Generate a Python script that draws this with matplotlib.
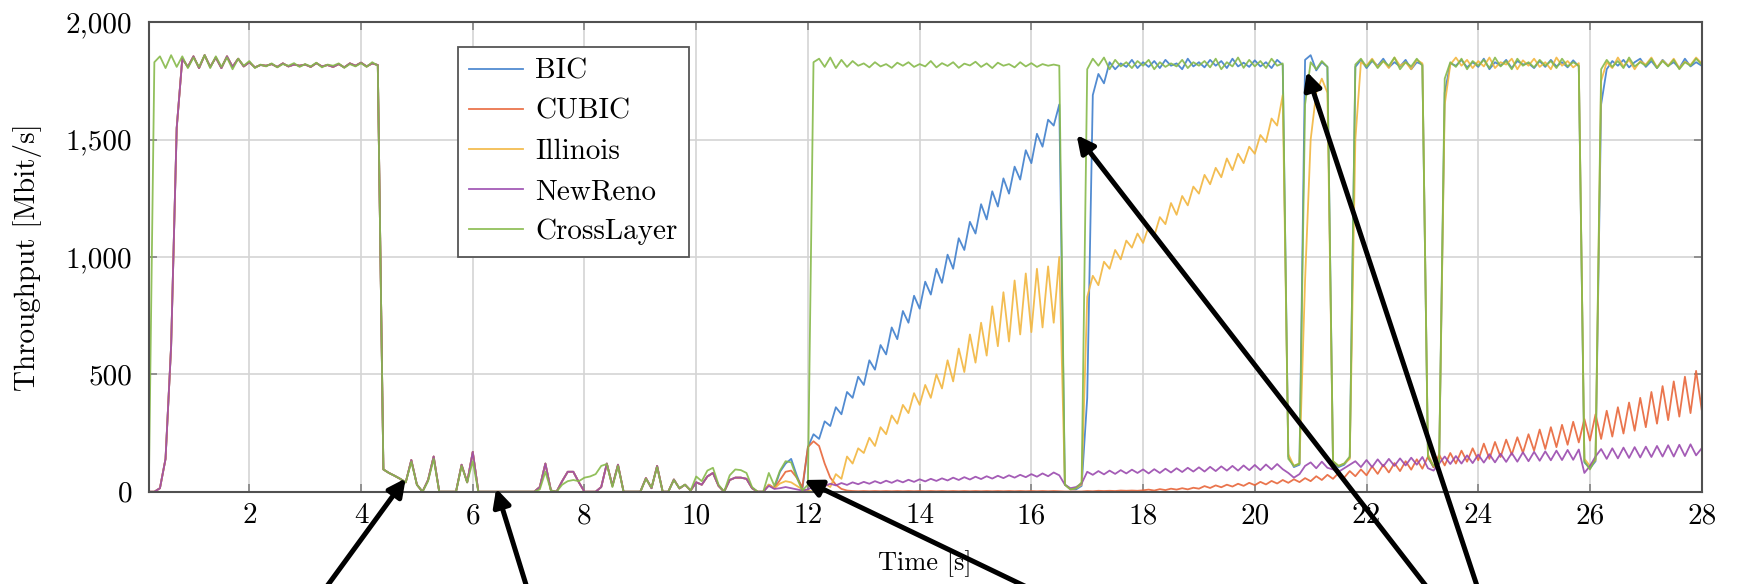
import matplotlib.pyplot as plt
import numpy as np

# throughput of the five congestion control variants, sampled every 0.1 s from 0.2 s to 28 s
t = np.linspace(0.2, 28.0, 279)

# all four TCP variants behave the same during the first 11 s
tcp_start = [
    0, 0, 15, 140, 620, 1550, 1845, 1810,
    1855, 1805, 1860, 1810, 1850, 1805, 1855, 1810, 1845, 1812,
    1830, 1808, 1818, 1815, 1822, 1810, 1825, 1812, 1820, 1815,
    1820, 1810, 1826, 1812, 1818, 1810, 1822, 1808, 1825, 1815,
    1828, 1812, 1825, 1818, 95, 80, 68, 55, 40, 135,
    30, 0, 50, 150, 0, 0, 0, 0, 115, 40,
    170, 0, 0, 0, 0, 0, 0, 0, 0, 0,
    0, 0, 20, 120, 5, 0, 45, 85, 85, 40,
    0, 0, 0, 20, 120, 25, 115, 0, 0, 0,
    0, 58, 15, 110, 0, 0, 52, 14, 30, 5,
    40, 30, 65, 80, 25, 0, 50, 60, 60, 55,
]

bic_tail = [
    15, 0, 0, 30, 15, 85, 120, 140, 70, 10,
    190, 245, 225, 300, 280, 360, 330, 425, 400, 490,
    455, 560, 520, 625, 585, 700, 650, 770, 720, 835,
    780, 895, 840, 950, 890, 1010, 950, 1080, 1030, 1150,
    1100, 1225, 1160, 1280, 1215, 1335, 1270, 1385, 1330, 1455,
    1400, 1525, 1470, 1585, 1560, 1650, 30, 10, 10, 25,
    400, 1690, 1780, 1740, 1830, 1800, 1825, 1810, 1840, 1805,
    1830, 1810, 1835, 1805, 1840, 1815, 1825, 1800, 1845, 1812,
    1830, 1808, 1840, 1815, 1835, 1805, 1845, 1812, 1828, 1810,
    1838, 1812, 1830, 1805, 1840, 1818, 150, 105, 115, 1840,
    1860, 1795, 1830, 1810, 125, 105, 115, 145, 1810, 1840,
    1805, 1835, 1815, 1845, 1808, 1830, 1812, 1840, 1800, 1830,
    1820, 145, 105, 120, 1700, 1825, 1815, 1840, 1808, 1830,
    1810, 1845, 1800, 1830, 1815, 1840, 1805, 1835, 1820, 1825,
    1805, 1835, 1810, 1840, 1812, 1830, 1808, 1838, 1812, 125,
    100, 130, 1650, 1800, 1835, 1815, 1840, 1808, 1830, 1845,
    1810, 1835, 1805, 1840, 1815, 1830, 1805, 1845, 1812, 1830,
    1815,
]

cubic_tail = [
    15, 0, 0, 30, 15, 50, 85, 90, 60, 20,
    190, 215, 195, 120, 60, 30, 12, 5, 3, 2,
    3, 2, 3, 2, 3, 2, 3, 2, 3, 2,
    3, 2, 3, 2, 3, 2, 3, 2, 3, 2,
    3, 2, 3, 2, 3, 2, 3, 2, 3, 2,
    3, 2, 3, 2, 3, 2, 1, 1, 1, 1,
    3, 2, 4, 3, 4, 3, 5, 4, 5, 4,
    6, 9, 5, 11, 7, 13, 9, 15, 10, 17,
    13, 24, 16, 27, 19, 30, 22, 34, 25, 38,
    28, 42, 31, 46, 35, 50, 38, 53, 41, 58,
    45, 66, 50, 72, 55, 80, 60, 88, 66, 95,
    70, 108, 76, 115, 82, 122, 88, 130, 94, 138,
    98, 150, 104, 158, 112, 165, 120, 175, 128, 185,
    134, 205, 140, 212, 148, 222, 158, 232, 166, 245,
    175, 265, 182, 275, 190, 285, 200, 298, 210, 310,
    218, 330, 225, 345, 235, 360, 248, 380, 260, 400,
    275, 425, 290, 450, 305, 470, 320, 490, 335, 515,
    350,
]

illinois_tail = [
    15, 0, 0, 30, 15, 35, 45, 40, 25, 10,
    5, 0, 10, 35, 20, 75, 55, 150, 120, 185,
    165, 230, 195, 275, 245, 325, 290, 370, 335, 420,
    370, 455, 400, 500, 440, 560, 470, 610, 510, 670,
    550, 720, 580, 790, 620, 850, 640, 900, 670, 930,
    680, 950, 700, 960, 720, 1000, 30, 10, 15, 30,
    830, 920, 880, 980, 950, 1030, 990, 1070, 1040, 1100,
    1060, 1130, 1090, 1170, 1140, 1230, 1180, 1260, 1220, 1300,
    1270, 1350, 1310, 1380, 1340, 1420, 1370, 1440, 1400, 1470,
    1440, 1520, 1490, 1590, 1560, 1690, 160, 110, 120, 900,
    1500, 1700, 1760, 1700, 130, 110, 120, 140, 1500, 1830,
    1815, 1845, 1810, 1835, 1805, 1850, 1815, 1830, 1800, 1840,
    1825, 160, 110, 120, 1650, 1820, 1850, 1815, 1840, 1805,
    1835, 1812, 1850, 1805, 1830, 1820, 1845, 1800, 1838, 1815,
    1845, 1810, 1830, 1800, 1850, 1815, 1835, 1808, 1826, 140,
    110, 135, 1750, 1830, 1805, 1850, 1812, 1840, 1800, 1835,
    1820, 1850, 1808, 1838, 1815, 1845, 1805, 1832, 1818, 1850,
    1825,
]

newreno_tail = [
    15, 0, 0, 25, 12, 15, 20, 15, 10, 5,
    10, 22, 30, 24, 34, 27, 37, 29, 40, 32,
    42, 34, 45, 36, 47, 38, 49, 40, 51, 42,
    53, 44, 55, 46, 57, 48, 60, 50, 62, 52,
    64, 54, 66, 56, 68, 58, 70, 60, 72, 62,
    75, 64, 78, 66, 82, 70, 30, 15, 20, 35,
    85, 72, 88, 74, 90, 76, 92, 78, 94, 80,
    95, 78, 96, 80, 98, 82, 100, 84, 102, 86,
    104, 86, 106, 88, 108, 90, 110, 90, 112, 92,
    114, 92, 116, 95, 118, 96, 80, 60, 75, 110,
    125, 100, 128, 102, 95, 85, 100, 115, 130, 105,
    135, 105, 138, 108, 140, 110, 142, 112, 145, 115,
    148, 100, 90, 120, 150, 118, 152, 120, 155, 122,
    158, 124, 160, 125, 162, 127, 165, 128, 168, 130,
    170, 132, 172, 134, 175, 135, 178, 136, 180, 80,
    110, 150, 182, 140, 185, 142, 188, 144, 190, 146,
    192, 148, 195, 150, 198, 150, 200, 152, 202, 155,
    185,
]

crosslayer = [
    0, 1830, 1855, 1805, 1860, 1810, 1855, 1805,
    1850, 1810, 1860, 1805, 1855, 1810, 1850, 1800, 1845, 1815,
    1835, 1805, 1820, 1812, 1825, 1808, 1822, 1815, 1826, 1810,
    1822, 1812, 1828, 1808, 1820, 1815, 1825, 1806, 1822, 1812,
    1826, 1810, 1830, 1815, 95, 80, 68, 55, 40, 128,
    30, 0, 45, 140, 0, 0, 0, 0, 110, 40,
    130, 0, 0, 0, 0, 0, 0, 0, 0, 0,
    0, 0, 10, 85, 5, 0, 30, 45, 50, 45,
    60, 65, 75, 110, 118, 20, 110, 0, 0, 0,
    0, 55, 18, 105, 0, 0, 50, 15, 30, 5,
    65, 45, 90, 102, 30, 0, 70, 95, 92, 80,
    20, 0, 0, 80, 25, 90, 130, 125, 60, 5,
    30, 1830, 1845, 1810, 1850, 1805, 1840, 1810, 1835, 1815,
    1825, 1808, 1830, 1812, 1822, 1806, 1828, 1815, 1830, 1810,
    1822, 1812, 1835, 1808, 1826, 1814, 1830, 1806, 1824, 1816,
    1832, 1810, 1825, 1805, 1828, 1815, 1822, 1808, 1830, 1812,
    1826, 1810, 1822, 1815, 1820, 1815, 30, 10, 15, 40,
    1800, 1845, 1815, 1850, 1800, 1840, 1812, 1830, 1805, 1835,
    1815, 1840, 1800, 1830, 1810, 1825, 1812, 1840, 1805, 1830,
    1815, 1835, 1808, 1845, 1800, 1830, 1812, 1850, 1806, 1840,
    1812, 1835, 1805, 1845, 1815, 1825, 140, 110, 120, 1650,
    1830, 1800, 1835, 1810, 130, 110, 120, 150, 1820, 1845,
    1810, 1840, 1805, 1835, 1815, 1850, 1800, 1830, 1812, 1845,
    1815, 150, 110, 125, 1760, 1830, 1810, 1845, 1800, 1835,
    1815, 1840, 1805, 1850, 1812, 1835, 1800, 1845, 1815, 1830,
    1808, 1840, 1815, 1835, 1805, 1845, 1812, 1830, 1815, 130,
    95, 140, 1800, 1840, 1810, 1835, 1805, 1850, 1812, 1830,
    1815, 1845, 1805, 1835, 1812, 1840, 1800, 1830, 1815, 1845,
    1820,
]

names = ["BIC", "CUBIC", "Illinois", "NewReno", "CrossLayer"]
series = [tcp_start + bic_tail, tcp_start + cubic_tail, tcp_start + illinois_tail,
          tcp_start + newreno_tail, crosslayer]
colors = ["#3f7fcc", "#e8663a", "#f2b63f", "#9a4aae", "#86b94a"]

x_ticks = [2, 4, 6, 8, 10, 12, 14, 16, 18, 20, 22, 24, 26, 28]
y_ticks = [0, 500, 1000, 1500, 2000]
y_tick_labels = ["0", "500", "1,000", "1,500", "2,000"]

# arrow tips (time, throughput) and where the arrows come in from below
arrow_tips = [(4.80, 57), (6.42, 14), (11.93, 50), (16.81, 1520), (20.93, 1790)]
arrow_tails = [(314, -20), (532, -20), (1062, -20), (1440, -20), (1483, -20)]

plt.rcParams['font.family'] = ['cmr10', 'DejaVu Serif']

fig = plt.figure(figsize=(17.38, 5.84), dpi=100)
ax = fig.add_axes([0.0856, 0.158, 0.8935, 0.8038])

for name, y, c in zip(names, series, colors):
    ax.plot(t, y, color=c, lw=1.3, alpha=0.9, label=name)

ax.set_xlim(0.2, 28)
ax.set_ylim(0, 2000)
ax.set_xticks(x_ticks)
ax.set_xticklabels([str(v) for v in x_ticks])
ax.set_yticks(y_ticks)
ax.set_yticklabels(y_tick_labels)

# сетка и оформление осей
ax.grid(True, color="#d4d4d4", linewidth=1.2)
ax.set_axisbelow(True)
for s in ax.spines.values():
    s.set_color("#505050")
    s.set_linewidth(1.5)
ax.tick_params(direction="in", length=6, width=1.3, color="#8a8a8a",
               top=True, right=True, labelsize=21)
ax.tick_params(axis="x", pad=8)
ax.tick_params(axis="y", pad=12)

ax.set_xlabel("Time [s]", fontsize=19, labelpad=15)
ax.set_ylabel("Throughput [Mbit/s]", fontsize=21, labelpad=17)

leg = ax.legend(loc="upper left", bbox_to_anchor=(0.199, 0.948), borderaxespad=0,
                fontsize=21, fancybox=False, framealpha=1, edgecolor="#555555",
                handlelength=1.85, handletextpad=0.4, labelspacing=0.47, borderpad=0.4)
leg.get_frame().set_linewidth(1.3)

for tip, tail in zip(arrow_tips, arrow_tails):
    ax.annotate("", xy=tip, xycoords="data", xytext=tail, textcoords="figure pixels",
                arrowprops=dict(arrowstyle="-|>", color="black", lw=3.6,
                                mutation_scale=26, shrinkA=0, shrinkB=0),
                annotation_clip=False)

plt.savefig("out.png", dpi=100)
